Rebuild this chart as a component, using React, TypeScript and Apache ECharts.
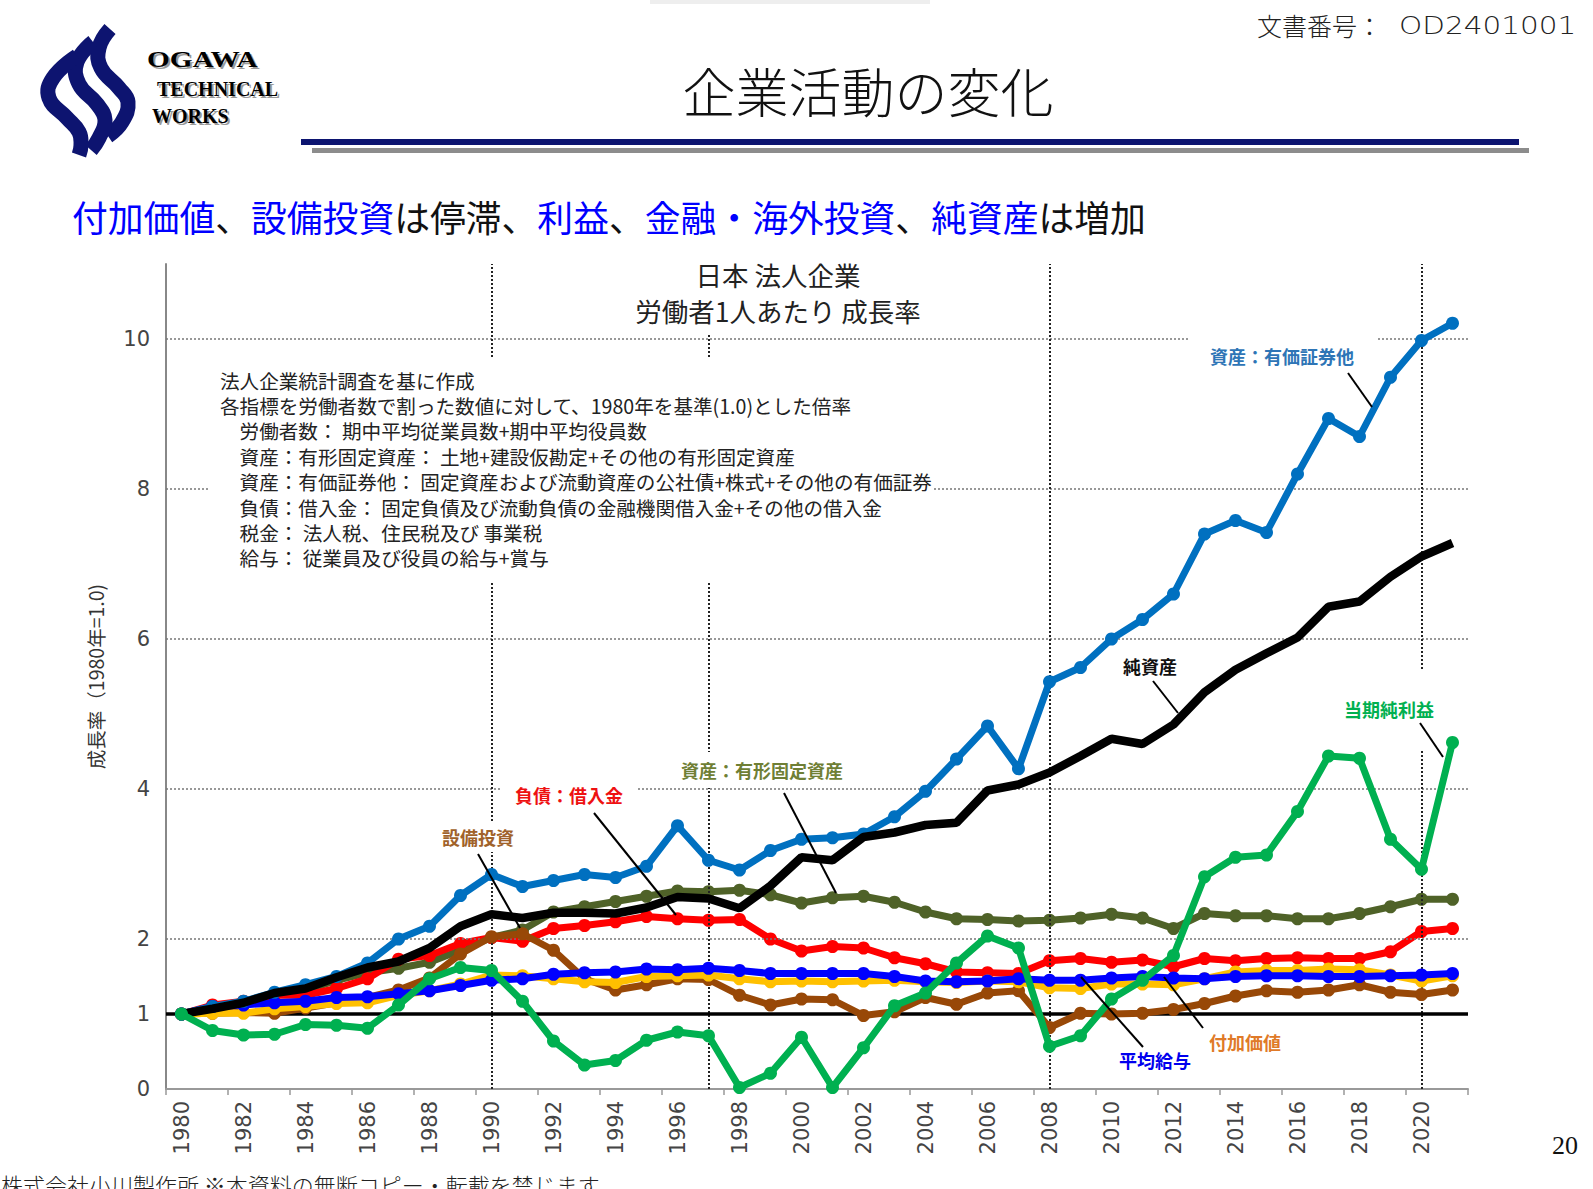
import React, { useEffect, useRef } from 'react';
import * as echarts from 'echarts';

// ---------- data ----------
const years = ['1980','1981','1982','1983','1984','1985','1986','1987','1988','1989','1990','1991','1992','1993','1994','1995','1996','1997','1998','1999','2000','2001','2002','2003','2004','2005','2006','2007','2008','2009','2010','2011','2012','2013','2014','2015','2016','2017','2018','2019','2020','2021'];

// 資産：有価証券他
const securities = [1.00,1.10,1.17,1.29,1.39,1.50,1.68,2.00,2.17,2.58,2.86,2.70,2.78,2.86,2.82,2.97,3.51,3.05,2.92,3.18,3.33,3.35,3.40,3.63,3.97,4.40,4.84,4.27,5.43,5.62,6.00,6.26,6.60,7.40,7.58,7.42,8.20,8.94,8.70,9.49,9.98,10.21];
// 純資産
const netAssets = [1.00,1.07,1.15,1.28,1.34,1.49,1.62,1.70,1.88,2.17,2.33,2.28,2.35,2.35,2.34,2.42,2.56,2.54,2.41,2.71,3.09,3.05,3.36,3.42,3.52,3.55,3.98,4.06,4.22,4.44,4.67,4.60,4.86,5.29,5.59,5.81,6.02,6.43,6.50,6.83,7.10,7.28];
// 当期純利益
const netProfit = [1.00,0.78,0.72,0.73,0.86,0.85,0.81,1.12,1.47,1.62,1.58,1.17,0.64,0.32,0.38,0.65,0.76,0.71,0.02,0.21,0.69,0.02,0.55,1.11,1.28,1.68,2.04,1.88,0.57,0.71,1.20,1.45,1.78,2.83,3.09,3.12,3.70,4.44,4.41,3.33,2.93,4.62];
// 資産：有形固定資産
const tangibleAssets = [1.00,1.08,1.15,1.26,1.31,1.45,1.55,1.61,1.69,1.85,2.02,2.12,2.36,2.43,2.50,2.57,2.64,2.63,2.65,2.59,2.48,2.55,2.57,2.49,2.36,2.27,2.26,2.24,2.25,2.28,2.33,2.28,2.14,2.34,2.31,2.31,2.27,2.27,2.34,2.43,2.53,2.53];
// 負債：借入金
const borrowings = [1.00,1.12,1.17,1.25,1.25,1.34,1.47,1.73,1.78,1.94,2.02,1.97,2.14,2.18,2.23,2.30,2.27,2.25,2.26,2.00,1.84,1.90,1.88,1.75,1.67,1.56,1.55,1.54,1.71,1.74,1.69,1.72,1.63,1.74,1.71,1.74,1.75,1.74,1.74,1.83,2.10,2.14];
// 設備投資
const capex = [1.00,1.01,1.02,1.01,1.08,1.15,1.22,1.32,1.48,1.80,2.03,2.07,1.85,1.47,1.32,1.39,1.47,1.46,1.25,1.12,1.20,1.19,0.98,1.03,1.22,1.13,1.28,1.31,0.82,1.01,1.00,1.01,1.06,1.14,1.24,1.31,1.29,1.32,1.39,1.29,1.26,1.32];
// 付加価値
const valueAdded = [1.00,1.01,1.01,1.07,1.10,1.14,1.15,1.25,1.31,1.40,1.52,1.51,1.47,1.43,1.42,1.50,1.51,1.52,1.47,1.43,1.44,1.43,1.44,1.45,1.43,1.42,1.44,1.43,1.35,1.34,1.40,1.40,1.39,1.47,1.56,1.58,1.58,1.60,1.59,1.52,1.44,1.51];
// 平均給与
const avgSalary = [1.00,1.10,1.12,1.15,1.17,1.22,1.23,1.27,1.31,1.38,1.45,1.47,1.53,1.55,1.56,1.60,1.59,1.61,1.58,1.54,1.54,1.54,1.54,1.50,1.44,1.43,1.44,1.47,1.45,1.45,1.48,1.50,1.48,1.47,1.50,1.51,1.51,1.50,1.50,1.51,1.52,1.54];

const yTickLabels = [0, 1, 2, 4, 6, 8, 10];
const gridValues = [2, 4, 6, 8, 10];
const baseValue = 1;
const milestoneYears = ['1990', '1997', '2008', '2020'];

const noteLines = [
  '法人企業統計調査を基に作成',
  '各指標を労働者数で割った数値に対して、1980年を基準(1.0)とした倍率',
  '　労働者数： 期中平均従業員数+期中平均役員数',
  '　資産：有形固定資産： 土地+建設仮勘定+その他の有形固定資産',
  '　資産：有価証券他： 固定資産および流動資産の公社債+株式+その他の有価証券',
  '　負債：借入金： 固定負債及び流動負債の金融機関借入金+その他の借入金',
  '　税金： 法人税、住民税及び 事業税',
  '　給与： 従業員及び役員の給与+賞与',
];

const JP = '"Noto Sans CJK JP", "Noto Sans CJK SC", sans-serif';
const NUM = '"DejaVu Sans", "Liberation Sans", sans-serif';

function lineSeries(name: string, data: number[], color: string, z: number, markers = true) {
  return {
    name,
    type: 'line',
    data,
    z,
    symbol: markers ? 'circle' : 'none',
    symbolSize: 13,
    showSymbol: markers,
    lineStyle: { color, width: markers ? 7 : 8.5 },
    itemStyle: { color },
    emphasis: { disabled: true },
    silent: true,
  };
}

function label(text: string, x: number, y: number, color: string, padding: number[] = [3, 4]) {
  return {
    type: 'text',
    z: 60,
    style: {
      text,
      x,
      y,
      fill: color,
      fontSize: 18,
      fontWeight: 'bold',
      fontFamily: JP,
      align: 'center',
      verticalAlign: 'middle',
      textAlign: 'center',
      textVerticalAlign: 'middle',
      backgroundColor: '#ffffff',
      padding,
    },
  };
}

function leader(x1: number, y1: number, x2: number, y2: number) {
  return {
    type: 'line',
    z: 70,
    shape: { x1, y1, x2, y2 },
    style: { stroke: '#000', lineWidth: 2 },
  };
}

function ribbon(points: number[][]) {
  return {
    type: 'polyline',
    z: 10,
    shape: { points, smooth: 0.45 },
    style: { stroke: '#0d1470', lineWidth: 15, fill: null, lineCap: 'butt' },
  };
}

function buildOption() {
  const notes = noteLines.map((t, i) => ({
    type: 'text',
    z: 55,
    style: {
      text: t,
      x: 220,
      y: 380 + i * 25.4,
      fill: '#222',
      fontSize: 19.6,
      fontFamily: JP,
      verticalAlign: 'middle',
      textVerticalAlign: 'middle',
    },
  }));

  const graphic: any[] = [
    // faint top bar
    { type: 'rect', z: 5, shape: { x: 650, y: 0, width: 280, height: 4 }, style: { fill: '#eeeeee' } },
    // logo ribbons
    ribbon([[110, 29], [99, 48], [101, 68], [119, 88], [128, 102], [122, 122], [108, 136]]),
    ribbon([[93, 42], [77, 62], [79, 84], [97, 104], [105, 120], [99, 138], [91, 150]]),
    ribbon([[77, 56], [53, 78], [49, 98], [67, 118], [79, 132], [81, 145], [79, 155]]),
    // logo text (shadow + text)
    { type: 'text', z: 10, x: 149, y: 61, scaleX: 1.22, style: { text: 'OGAWA', fill: '#9a9a9a', fontSize: 24, fontWeight: 'bold', fontFamily: '"Liberation Serif", serif', verticalAlign: 'middle', textVerticalAlign: 'middle' } },
    { type: 'text', z: 11, x: 147, y: 59, scaleX: 1.22, style: { text: 'OGAWA', fill: '#000', fontSize: 24, fontWeight: 'bold', fontFamily: '"Liberation Serif", serif', verticalAlign: 'middle', textVerticalAlign: 'middle' } },
    { type: 'text', z: 10, x: 159, y: 91, style: { text: 'TECHNICAL', fill: '#9a9a9a', fontSize: 20, fontWeight: 'bold', fontFamily: '"Liberation Serif", serif', verticalAlign: 'middle', textVerticalAlign: 'middle' } },
    { type: 'text', z: 11, x: 157, y: 89, style: { text: 'TECHNICAL', fill: '#000', fontSize: 20, fontWeight: 'bold', fontFamily: '"Liberation Serif", serif', verticalAlign: 'middle', textVerticalAlign: 'middle' } },
    { type: 'text', z: 10, x: 154, y: 118, style: { text: 'WORKS', fill: '#9a9a9a', fontSize: 20, fontWeight: 'bold', fontFamily: '"Liberation Serif", serif', verticalAlign: 'middle', textVerticalAlign: 'middle' } },
    { type: 'text', z: 11, x: 152, y: 116, style: { text: 'WORKS', fill: '#000', fontSize: 20, fontWeight: 'bold', fontFamily: '"Liberation Serif", serif', verticalAlign: 'middle', textVerticalAlign: 'middle' } },
    // page title
    { type: 'text', z: 10, style: { text: '企業活動の変化', x: 868, y: 90, fill: '#111', fontSize: 53, fontWeight: 300, fontFamily: JP, align: 'center', verticalAlign: 'middle', textAlign: 'center', textVerticalAlign: 'middle' } },
    // doc number
    { type: 'text', z: 10, style: { text: '文書番号：', x: 1257, y: 25, fill: '#222', fontSize: 25, fontWeight: 300, fontFamily: JP, verticalAlign: 'middle', textVerticalAlign: 'middle' } },
    { type: 'text', z: 10, x: 1399, y: 25, scaleX: 1.18, style: { text: 'OD2401001', fill: '#222', fontSize: 25, fontWeight: 200, fontFamily: NUM, verticalAlign: 'middle', textVerticalAlign: 'middle' } },
    // rules
    { type: 'rect', z: 10, shape: { x: 301, y: 139, width: 1218, height: 6 }, style: { fill: '#0c1470' } },
    { type: 'rect', z: 10, shape: { x: 312, y: 148, width: 1217, height: 5 }, style: { fill: '#8c8c8c' } },
    // subtitle
    {
      type: 'text', z: 10,
      style: {
        text: '{b|付加価値}{k|、}{b|設備投資}{k|は停滞、}{b|利益}{k|、}{b|金融・海外投資}{k|、}{b|純資産}{k|は増加}',
        x: 72, y: 216, fontSize: 35.8, fontFamily: JP, verticalAlign: 'middle', textVerticalAlign: 'middle',
        rich: {
          b: { fill: '#0000ff', fontSize: 35.8, fontFamily: JP, fontWeight: 'normal' },
          k: { fill: '#111111', fontSize: 35.8, fontFamily: JP, fontWeight: 'normal' },
        },
      },
    },
    // chart title with white box
    {
      type: 'text', z: 55,
      style: {
        text: '日本 法人企業\n労働者1人あたり 成長率', x: 778, y: 292, fill: '#222', fontSize: 26.5, lineHeight: 36,
        fontWeight: 'normal', fontFamily: JP, align: 'center', verticalAlign: 'middle', textAlign: 'center', textVerticalAlign: 'middle',
        backgroundColor: '#ffffff', padding: [6, 10, 4, 10],
      },
    },
    // notes box
    { type: 'rect', z: 50, shape: { x: 208, y: 359, width: 725, height: 222 }, style: { fill: '#ffffff' } },
    ...notes,
    // series labels
    label('資産：有価証券他', 1282, 356, '#2e75b6', [16, 22, 6, 22]),
    leader(1348, 373, 1372, 407),
    label('純資産', 1150, 666, '#111111'),
    leader(1153, 681, 1178, 713),
    label('当期純利益', 1389, 709, '#00b050', [18, 4, 44, 4]),
    leader(1420, 723, 1443, 757),
    label('資産：有形固定資産', 762, 770, '#6f7f35', [8, 6, 10, 6]),
    leader(784, 793, 836, 893),
    label('負債：借入金', 569, 795, '#ee1111', [5, 14, 5, 14]),
    leader(594, 813, 676, 915),
    label('設備投資', 478, 837, '#a0622a', [6, 6, 6, 6]),
    leader(478, 854, 520, 928),
    label('平均給与', 1155, 1060, '#0000ee', [2, 2]),
    leader(1143, 1047, 1081, 977),
    label('付加価値', 1245, 1042, '#e07a28', [2, 2]),
    leader(1203, 1028, 1164, 977),
    // page number & footer
    { type: 'text', z: 10, style: { text: '20', x: 1565, y: 1145, fill: '#111', fontSize: 26, fontFamily: '"Liberation Serif", serif', align: 'center', verticalAlign: 'middle', textAlign: 'center', textVerticalAlign: 'middle' } },
    { type: 'text', z: 10, style: { text: '株式会社小川製作所 ※本資料の無断コピー・転載を禁じます', x: 1, y: 1184, fill: '#222', fontSize: 22, fontWeight: 300, fontFamily: JP, verticalAlign: 'middle', textVerticalAlign: 'middle' } },
  ];

  const refSeries = {
    name: 'ref',
    type: 'line',
    data: [],
    z: 1,
    silent: true,
    markLine: {
      silent: true,
      symbol: ['none', 'none'],
      label: { show: false },
      emphasis: { disabled: true },
      data: [
        ...gridValues.map((v) => ({ yAxis: v, lineStyle: { color: '#777', width: 1.5, type: [2, 2] } })),
        ...milestoneYears.map((y) => ({ xAxis: y, lineStyle: { color: '#222', width: 2, type: [2, 2] } })),
        { yAxis: baseValue, lineStyle: { color: '#000', width: 3.5, type: 'solid' } },
      ],
    },
  };

  return {
    animation: false,
    backgroundColor: '#ffffff',
    grid: { left: 166, top: 264, width: 1302, height: 825, containLabel: false },
    xAxis: {
      type: 'category',
      data: years,
      boundaryGap: true,
      axisLine: { show: true, lineStyle: { color: '#999', width: 2 } },
      axisTick: { show: true, interval: 1, length: 6, lineStyle: { color: '#999', width: 1.5 } },
      axisLabel: { interval: 1, rotate: 90, margin: 12, fontSize: 21, color: '#444', fontFamily: NUM },
      splitLine: { show: false },
    },
    yAxis: {
      type: 'value',
      min: 0,
      max: 11,
      interval: 1,
      name: '成長率（1980年=1.0)',
      nameLocation: 'middle',
      nameGap: 61,
      nameRotate: 90,
      nameTextStyle: { fontSize: 19.5, color: '#333', fontFamily: JP },
      axisLine: { show: true, lineStyle: { color: '#888', width: 2 } },
      axisTick: { show: false },
      axisLabel: {
        margin: 16,
        fontSize: 21,
        color: '#444',
        fontFamily: NUM,
        formatter: (v: number) => (yTickLabels.indexOf(v) >= 0 ? String(v) : ''),
      },
      splitLine: { show: false },
    },
    graphic,
    series: [
      refSeries,
      lineSeries('資産：有形固定資産', tangibleAssets, '#4f6228', 3),
      lineSeries('負債：借入金', borrowings, '#ff0000', 4),
      lineSeries('設備投資', capex, '#984807', 5),
      lineSeries('付加価値', valueAdded, '#ffc000', 6),
      lineSeries('平均給与', avgSalary, '#0000ff', 7),
      lineSeries('資産：有価証券他', securities, '#0070c0', 8),
      lineSeries('純資産', netAssets, '#000000', 9, false),
      lineSeries('当期純利益', netProfit, '#00b050', 10),
    ],
  };
}

export default function App() {
  const ref = useRef<HTMLDivElement>(null);
  useEffect(() => {
    const el = ref.current;
    if (!el) return;
    const chart = echarts.init(el, undefined, { renderer: 'svg' });
    chart.setOption(buildOption() as any);
    return () => chart.dispose();
  }, []);
  return (
    <div
      ref={ref}
      style={{ position: 'fixed', left: 0, top: 0, width: 1593, height: 1189, background: '#fff' }}
    />
  );
}
